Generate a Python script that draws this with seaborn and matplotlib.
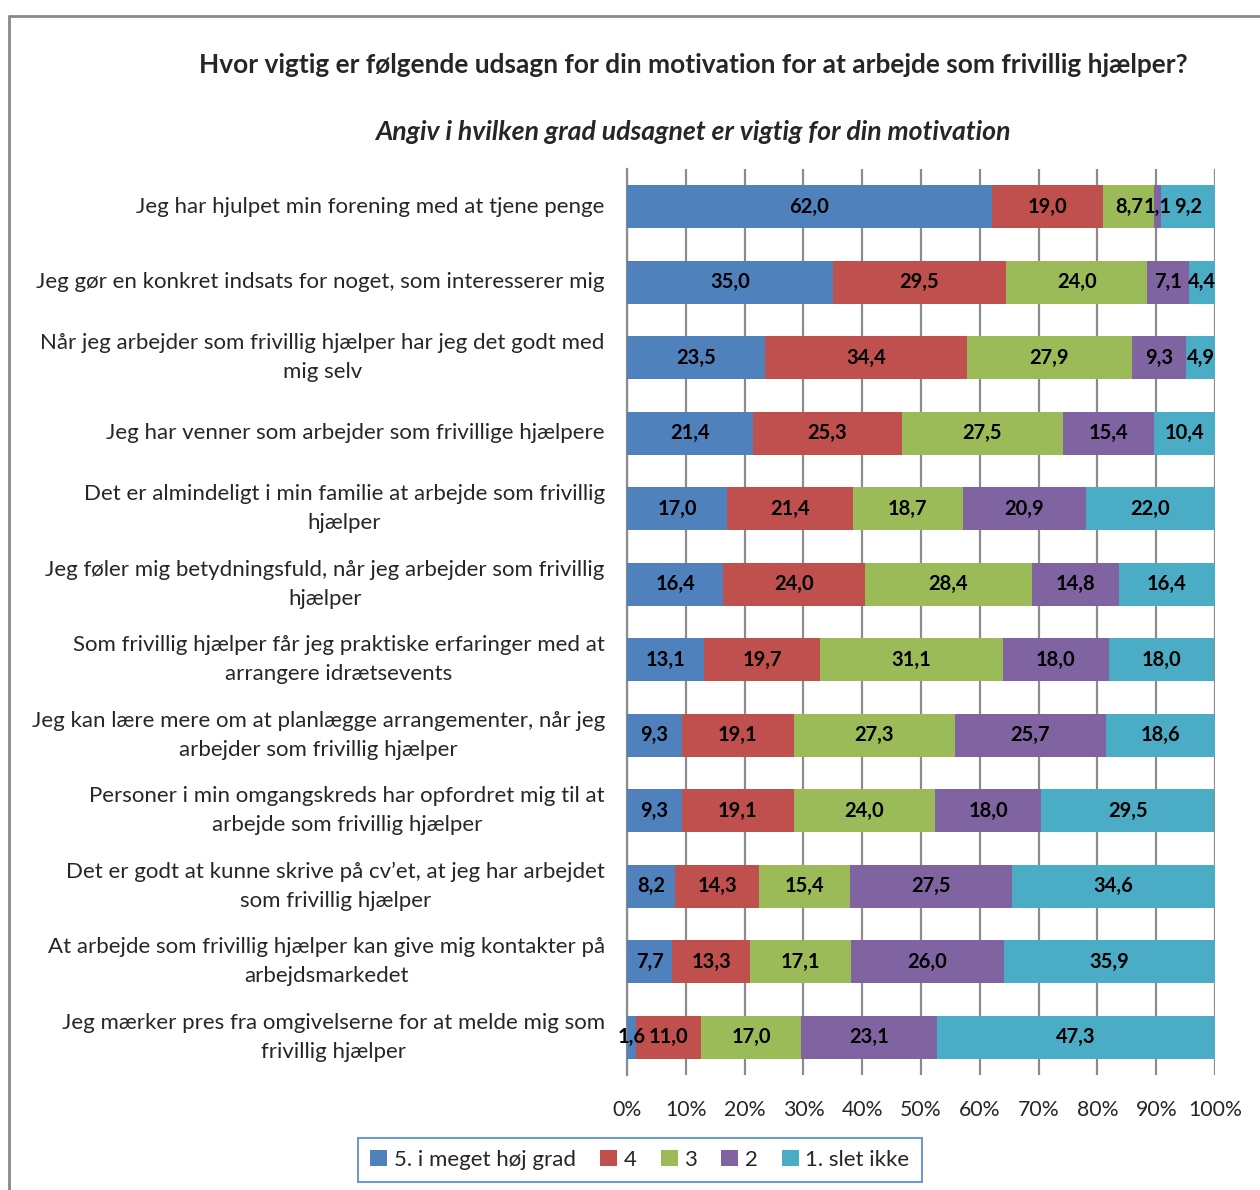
import matplotlib
matplotlib.use("Agg")
import matplotlib.pyplot as plt
from matplotlib.lines import Line2D
from matplotlib.patches import Patch
import numpy as np
import pandas as pd
import seaborn as sns

statements = [
    "Jeg har hjulpet min forening med at tjene penge",
    "Jeg gør en konkret indsats for noget, som interesserer mig",
    "Når jeg arbejder som frivillig hjælper har jeg det godt med\nmig selv",
    "Jeg har venner som arbejder som frivillige hjælpere",
    "Det er almindeligt i min familie at arbejde som frivillig\nhjælper",
    "Jeg føler mig betydningsfuld, når jeg arbejder som frivillig\nhjælper",
    "Som frivillig hjælper får jeg praktiske erfaringer med at\narrangere idrætsevents",
    "Jeg kan lære mere om at planlægge arrangementer, når jeg\narbejder som frivillig hjælper",
    "Personer i min omgangskreds har opfordret mig til at\narbejde som frivillig hjælper",
    "Det er godt at kunne skrive på cv’et, at jeg har arbejdet\nsom frivillig hjælper",
    "At arbejde som frivillig hjælper kan give mig kontakter på\narbejdsmarkedet",
    "Jeg mærker pres fra omgivelserne for at melde mig som\nfrivillig hjælper",
]

series_names = ["5. i meget høj grad", "4", "3", "2", "1. slet ikke"]

grade5 = [62.0, 35.0, 23.5, 21.4, 17.0, 16.4, 13.1, 9.3, 9.3, 8.2, 7.7, 1.6]
grade4 = [19.0, 29.5, 34.4, 25.3, 21.4, 24.0, 19.7, 19.1, 19.1, 14.3, 13.3, 11.0]
grade3 = [8.7, 24.0, 27.9, 27.5, 18.7, 28.4, 31.1, 27.3, 24.0, 15.4, 17.1, 17.0]
grade2 = [1.1, 7.1, 9.3, 15.4, 20.9, 14.8, 18.0, 25.7, 18.0, 27.5, 26.0, 23.1]
grade1 = [9.2, 4.4, 4.9, 10.4, 22.0, 16.4, 18.0, 18.6, 29.5, 34.6, 35.9, 47.3]

colors = ["#4F81BD", "#C0504D", "#9BBB59", "#8064A2", "#4BACC6"]

title = "Hvor vigtig er følgende udsagn for din motivation for at arbejde som frivillig hjælper?"
subtitle = "Angiv i hvilken grad udsagnet er vigtig for din motivation"

FONT = ["Lato", "DejaVu Sans"]
sns.set_theme(style="white")
plt.rcParams["font.family"] = FONT

values = np.array([grade5, grade4, grade3, grade2, grade1])
cum = np.cumsum(values, axis=0)

fig = plt.figure(figsize=(12.6, 11.9), dpi=100)
ax = fig.add_axes([627 / 1260, 115 / 1190, 588 / 1260, 906 / 1190])

# Stacked bars: draw cumulative totals from the largest down so each segment shows
for k in range(len(series_names) - 1, -1, -1):
    df = pd.DataFrame({"statement": statements, "total": cum[k]})
    sns.barplot(data=df, x="total", y="statement", orient="h", color=colors[k],
                saturation=1, width=0.57, ax=ax, linewidth=0, zorder=3)

# Value labels in the middle of each segment
for k in range(len(series_names)):
    for i in range(len(statements)):
        v = values[k, i]
        xc = cum[k, i] - v / 2
        ax.text(xc, i, f"{v:.1f}".replace(".", ","), ha="center", va="center",
                fontsize=14.5, fontweight="bold", color="black", zorder=5)

ax.set_xlim(0, 100)
ax.set_ylim(len(statements) - 0.5, -0.5)
ax.set_xticks(np.arange(0, 101, 10))
ax.set_xticklabels([f"{t}%" for t in range(0, 101, 10)], fontsize=15.3)
ax.set_yticks(range(len(statements)))
ax.set_yticklabels(statements, fontsize=16, multialignment="center", linespacing=1.55,
                   va="center")
ax.set_xlabel("")
ax.set_ylabel("")
ax.tick_params(axis="x", length=0, pad=18)
ax.tick_params(axis="y", length=0, pad=16)

ax.grid(axis="x", color="#8C8C8C", linewidth=1.6, zorder=0)
ax.set_axisbelow(True)
for side in ["top", "right", "bottom"]:
    ax.spines[side].set_visible(False)
ax.spines["left"].set_color("#8C8C8C")
ax.spines["left"].set_linewidth(1.6)

fig.text(693 / 1260, 1 - 65 / 1190, title, ha="center", va="center",
         fontsize=18.9, fontweight="bold")
fig.text(693 / 1260, 1 - 132 / 1190, subtitle, ha="center", va="center",
         fontsize=19.2, fontweight="bold", style="italic")

handles = [Patch(facecolor=c, edgecolor="none") for c in colors]
leg = fig.legend(handles, series_names, loc="center", bbox_to_anchor=(640 / 1260, 1 - 1160 / 1190),
                 ncol=5, frameon=True, fancybox=False, fontsize=16, handlelength=0.75,
                 handleheight=0.75, handletextpad=0.3, columnspacing=1.1, borderpad=0.55)
leg.get_frame().set_edgecolor("#4F81BD")
leg.get_frame().set_linewidth(1.5)

# Outer chart frame (left and top edges)
fig.add_artist(Line2D([9 / 1260, 9 / 1260], [0, 1 - 16 / 1190], transform=fig.transFigure,
                      color="#888888", linewidth=2))
fig.add_artist(Line2D([9 / 1260, 1], [1 - 16 / 1190, 1 - 16 / 1190], transform=fig.transFigure,
                      color="#888888", linewidth=2))

fig.savefig("out.png", dpi=100, facecolor="white")
